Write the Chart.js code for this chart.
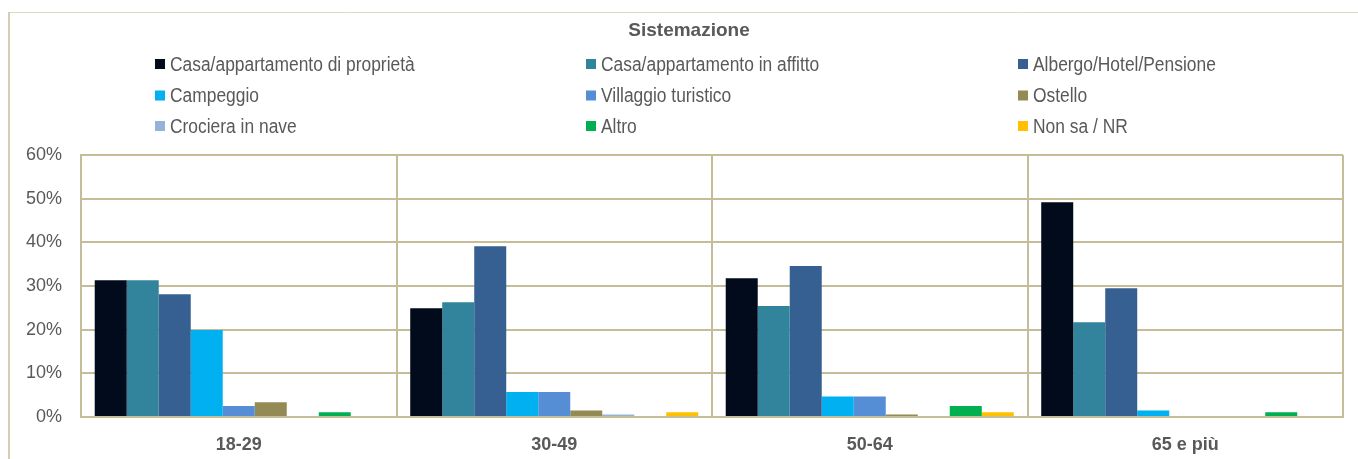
<!DOCTYPE html>
<html>
<head>
    <meta charset="utf-8">
    <title>Sistemazione</title>
    <script src="https://cdn.jsdelivr.net/npm/chart.js"></script>
    <style>
        body { margin: 0; background: #ffffff; }
        #wrap { width: 1358px; height: 459px; position: relative; }
    </style>
</head>
<body>
    <div id="wrap"><canvas id="sistemazioneChart"></canvas></div>
<script>
// categories (age groups)
const categories = ['18-29', '30-49', '50-64', '65 e più'];

// series names and colours
const seriesNames = [
    'Casa/appartamento di proprietà', 'Casa/appartamento in affitto', 'Albergo/Hotel/Pensione',
    'Campeggio', 'Villaggio turistico', 'Ostello',
    'Crociera in nave', 'Altro', 'Non sa / NR'
];
const seriesColors = ['#020b1c', '#31849b', '#366092', '#00b0f0', '#558ed5', '#948a54', '#95b3d7', '#00b050', '#ffc000'];

// values in percent, one array per series
const casaProprieta = [31.3, 24.9, 31.8, 49.2];
const casaAffitto   = [31.3, 26.3, 25.4, 21.7];
const albergo       = [28.1, 39.1, 34.6, 29.5];
const campeggio     = [19.9, 5.7, 4.7, 1.5];
const villaggio     = [2.5, 5.7, 4.7, 0];
const ostello       = [3.4, 1.5, 0.6, 0];
const crociera      = [0, 0.6, 0, 0];
const altro         = [1.1, 0, 2.5, 1.1];
const nonSa         = [0, 1.1, 1.1, 0];
const seriesValues = [casaProprieta, casaAffitto, albergo, campeggio, villaggio, ostello, crociera, altro, nonSa];

// y axis ticks
const yTicks = [0, 10, 20, 30, 40, 50, 60];

const chartTitle = 'Sistemazione';
const gridColor = '#c4bd97';
const textColor = '#595959';
const fontFamily = '"Liberation Sans", Arial, sans-serif';

// draws the outer frame, title and a 3-column legend in the top area
const headerPlugin = {
    id: 'header',
    beforeDraw(chart) {
        const ctx = chart.ctx;
        ctx.save();
        ctx.fillStyle = '#ffffff';
        ctx.fillRect(0, 0, chart.width, chart.height);
        ctx.strokeStyle = '#ddd9c3';
        ctx.lineWidth = 1;
        ctx.beginPath();
        ctx.moveTo(8, 12.5);
        ctx.lineTo(chart.width, 12.5);
        ctx.stroke();
        ctx.strokeStyle = '#d4cfb4';
        ctx.lineWidth = 2;
        ctx.beginPath();
        ctx.moveTo(9, 12);
        ctx.lineTo(9, chart.height);
        ctx.stroke();
        ctx.restore();
    },
    afterDraw(chart) {
        const ctx = chart.ctx;
        ctx.save();
        ctx.fillStyle = textColor;
        ctx.font = 'bold 19px ' + fontFamily;
        ctx.textAlign = 'center';
        ctx.textBaseline = 'middle';
        ctx.fillText(chartTitle, 689, 31);

        const colX = [155, 586, 1018];
        const rowY = [64, 95.5, 126];
        ctx.font = '20px ' + fontFamily;
        ctx.textAlign = 'left';
        seriesNames.forEach(function (name, i) {
            const x = colX[i % 3];
            const y = rowY[Math.floor(i / 3)];
            ctx.fillStyle = seriesColors[i];
            ctx.fillRect(x, y - 5, 10, 10);
            // legend text is a bit condensed in the original
            ctx.save();
            ctx.translate(x + 15, y + 1);
            ctx.scale(0.87, 1);
            ctx.fillStyle = textColor;
            ctx.fillText(name, 0, 0);
            ctx.restore();
        });
        ctx.restore();
    }
};

const ctx = document.getElementById('sistemazioneChart').getContext('2d');
const sistemazioneChart = new Chart(ctx, {
    type: 'bar',
    data: {
        labels: categories,
        datasets: seriesValues.map(function (vals, i) {
            return {
                label: seriesNames[i],
                data: vals,
                backgroundColor: seriesColors[i],
                borderWidth: 0,
                categoryPercentage: 0.913,
                barPercentage: 1.0
            };
        })
    },
    options: {
        responsive: true,
        maintainAspectRatio: false,
        animation: false,
        layout: { padding: { top: 155, right: 15, bottom: 0, left: 0 } },
        plugins: {
            legend: { display: false },
            title: { display: false },
            tooltip: { enabled: false }
        },
        scales: {
            x: {
                grid: { color: gridColor, lineWidth: 2, offset: true, drawTicks: false },
                border: { color: gridColor, width: 2 },
                ticks: {
                    color: textColor,
                    padding: 17,
                    font: { family: fontFamily, size: 18, weight: 'bold' }
                },
                afterFit: function (scale) { scale.height = 42; }
            },
            y: {
                min: 0,
                max: 60,
                afterBuildTicks: function (scale) {
                    scale.ticks = yTicks.map(function (v) { return { value: v }; });
                },
                grid: { color: gridColor, lineWidth: 2, drawTicks: false },
                border: { color: gridColor, width: 2 },
                ticks: {
                    color: textColor,
                    padding: 19,
                    font: { family: fontFamily, size: 18 },
                    callback: function (v) { return v + '%'; }
                },
                afterFit: function (scale) { scale.width = 81; }
            }
        }
    },
    plugins: [headerPlugin]
});
</script>
</body>
</html>
